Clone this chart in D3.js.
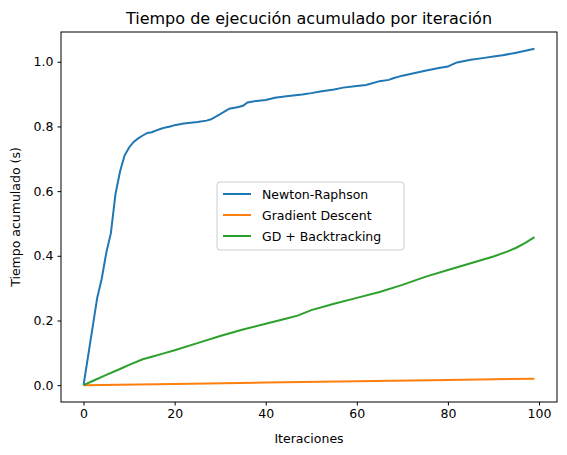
<!DOCTYPE html>
<html><head><meta charset="utf-8">
<script src="https://cdn.jsdelivr.net/npm/d3@7"></script>
<style>body{margin:0;background:#fff}text{font-family:"DejaVu Sans",sans-serif}</style>
</head><body><svg width="567" height="455"></svg>
<script>
// Data
const nrIter = [0,1,2,3,4,5,6,7,8,9,10,11,12,13,14,15,16,17,18,19,20,22,25,27,28,30,32,34,35,36,38,40,42,45,48,50,52,55,57,60,62,63,65,67,68,70,72,75,78,80,81,82,85,88,90,92,95,97,99];
const nrVals = [0,0.09,0.18,0.27,0.33,0.41,0.47,0.59,0.66,0.71,0.735,0.752,0.763,0.772,0.78,0.782,0.788,0.793,0.797,0.8,0.804,0.809,0.814,0.818,0.822,0.838,0.855,0.86,0.864,0.874,0.879,0.882,0.889,0.894,0.899,0.903,0.908,0.914,0.92,0.925,0.928,0.932,0.94,0.944,0.949,0.957,0.963,0.972,0.981,0.985,0.992,0.998,1.006,1.012,1.016,1.02,1.028,1.034,1.04];
const gdIter = [0,20,40,60,80,99];
const gdVals = [0,0.004,0.008,0.012,0.016,0.02];
const btIter = [0,2,5,8,10,13,15,18,20,25,30,35,40,45,47,50,55,60,65,70,75,80,85,90,93,95,97,99];
const btVals = [0,0.013,0.032,0.05,0.063,0.08,0.088,0.1,0.108,0.13,0.152,0.172,0.19,0.208,0.215,0.232,0.252,0.27,0.288,0.31,0.335,0.356,0.377,0.398,0.413,0.425,0.44,0.458];
const series = [
  {name:"Newton-Raphson", x:nrIter, y:nrVals, color:"#1f77b4"},
  {name:"Gradient Descent", x:gdIter, y:gdVals, color:"#ff7f0e"},
  {name:"GD + Backtracking", x:btIter, y:btVals, color:"#2ca02c"}
];
const xTicks = [0,20,40,60,80,100];
const yTicks = [0,0.2,0.4,0.6,0.8,1.0];

const svg = d3.select("svg");
const L = 61, R = 557, T = 32, B = 402;
const x = d3.scaleLinear().domain([-4.95, 103.95]).range([L, R]);
const y = d3.scaleLinear().domain([-0.052, 1.092]).range([B, T]);

svg.append("g").attr("transform", `translate(0,${B})`)
  .call(d3.axisBottom(x).tickValues(xTicks).tickSizeOuter(0).tickSize(3.5).tickPadding(4))
  .call(g => g.select(".domain").remove())
  .selectAll("text").attr("font-size", 12.5).attr("fill", "#000");
svg.append("g").attr("transform", `translate(${L},0)`)
  .call(d3.axisLeft(y).tickValues(yTicks).tickFormat(d3.format(".1f")).tickSize(3.5).tickPadding(4))
  .call(g => g.select(".domain").remove())
  .selectAll("text").attr("font-size", 12.5).attr("fill", "#000");

const line = d3.line();
series.forEach(s => {
  svg.append("path")
    .attr("d", line(s.x.map((v, i) => [x(v), y(s.y[i])])))
    .attr("fill", "none").attr("stroke", s.color).attr("stroke-width", 2);
});

svg.append("rect").attr("x", L).attr("y", T).attr("width", R - L).attr("height", B - T)
  .attr("fill", "none").attr("stroke", "#000").attr("stroke-width", 1);

svg.append("text").attr("x", (L + R) / 2).attr("y", 24).attr("text-anchor", "middle")
  .attr("font-size", 16).text("Tiempo de ejecución acumulado por iteración");
svg.append("text").attr("x", (L + R) / 2).attr("y", 443).attr("text-anchor", "middle")
  .attr("font-size", 12.5).text("Iteraciones");
svg.append("text").attr("transform", `translate(20,${(T + B) / 2}) rotate(-90)`)
  .attr("text-anchor", "middle").attr("font-size", 12.5).text("Tiempo acumulado (s)");

// Legend
const lg = svg.append("g").attr("transform", "translate(217,182)");
lg.append("rect").attr("width", 187).attr("height", 68).attr("rx", 3)
  .attr("fill", "#fff").attr("fill-opacity", 0.8).attr("stroke", "#ccc");
series.forEach((s, i) => {
  const yy = 12 + i * 21;
  lg.append("line").attr("x1", 6).attr("x2", 34).attr("y1", yy).attr("y2", yy)
    .attr("stroke", s.color).attr("stroke-width", 2);
  lg.append("text").attr("x", 45).attr("y", yy + 5).attr("font-size", 12.5).text(s.name);
});
</script></body></html>
